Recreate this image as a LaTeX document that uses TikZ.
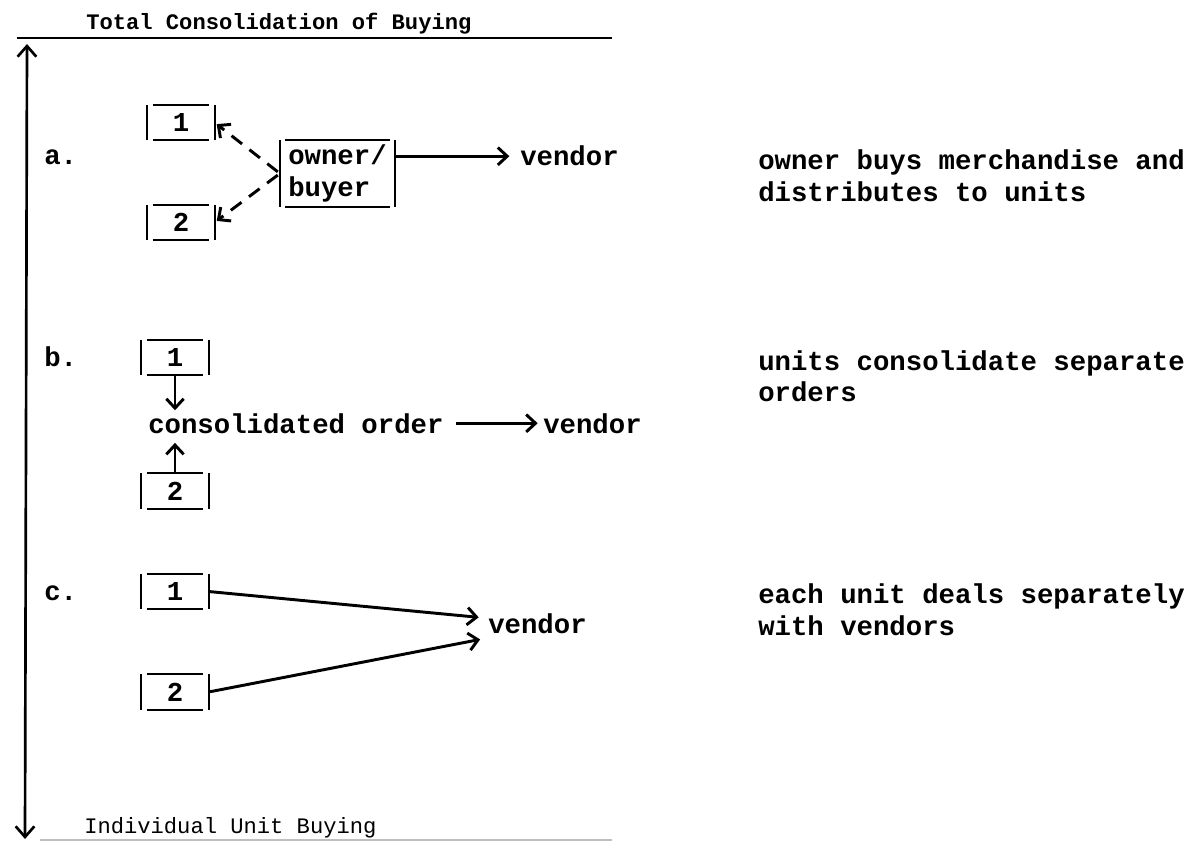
\documentclass[tikz,border=0pt]{standalone}
\usepackage{fontspec}
\setmonofont{Liberation Mono}
\usetikzlibrary{arrows.meta}
\newcommand\bodyfnt{\ttfamily\bfseries\fontsize{20.5pt}{24pt}\selectfont}
\newcommand\headfnt{\ttfamily\bfseries\fontsize{16.6pt}{20pt}\selectfont}
\newcommand\footfnt{\ttfamily\fontsize{16.6pt}{20pt}\selectfont}
\newcommand\digfnt{\ttfamily\bfseries\fontsize{20.5pt}{24pt}\selectfont}
\begin{document}
\begin{tikzpicture}[x=0.75pt,y=-0.75pt,
  txt/.style={inner sep=0pt, anchor=base west, font=\bodyfnt},
  bx/.style={line width=1.6pt},
  barbox/.style={inner sep=0pt, append after command={
      (\tikzlastnode.north west) edge[bx] (\tikzlastnode.south west)
      (\tikzlastnode.north east) edge[bx] (\tikzlastnode.south east)
      ([xshift=4pt]\tikzlastnode.north west) edge[bx] ([xshift=-4pt]\tikzlastnode.north east)
      ([xshift=4pt]\tikzlastnode.south west) edge[bx] ([xshift=-4pt]\tikzlastnode.south east)}},
  unitbox/.style={barbox, minimum width=50pt, minimum height=26pt, font=\digfnt},
  arr/.style={line width=2.2pt, -{Straight Barb[length=7pt,width=13pt]}},
  dasharr/.style={arr, dash pattern=on 10pt off 7pt},
  axis/.style={line width=2pt, {Straight Barb[length=8pt,width=14pt]}-{Straight Barb[length=8pt,width=14pt]}},
  rule/.style={line width=1.8pt}]
\useasboundingbox (0,0) rectangle (1198,841);

% header and scale
\node[txt, font=\headfnt] (title) at (86,30) {Total Consolidation of Buying};
\coordinate (tl) at (17,38);
\coordinate (tr) at (612,38);
\draw[rule] (tl) -- (tr);
\coordinate (axtop) at (27,44);
\coordinate (axbot) at (25,839);
\draw[axis] (axtop) -- (axbot);
\node[txt, font=\footfnt] (foot) at (84,833) {Individual Unit Buying};
\coordinate (bl) at (40,840);
\coordinate (br) at (612,840);
\draw[gray!50, line width=1pt] (bl) -- (br);

% a
\node[txt] (la) at (44,165) {a.};
\node[unitbox] (a1) at (181,122.5) {1};
\node[unitbox] (a2) at (181,222.5) {2};
\node[barbox, minimum width=86pt, minimum height=50pt, align=left, font=\bodyfnt] (ob) at (337.5,173.5) {owner/\\buyer};
\node[txt] (va) at (520,166) {vendor};
\draw[arr, shorten >=8pt] (ob.east |- va.west) -- (va.west);
\draw[dasharr, shorten <=2pt, shorten >=2pt] (ob.west) -- (a1.east);
\draw[dasharr, shorten <=2pt, shorten >=2pt] (ob.west) -- (a2.east);
\node[txt] (da1) at (758,170) {owner buys merchandise and};
\node[txt] (da2) at (758,202) {distributes to units};

% b
\node[txt] (lb) at (44,366) {b.};
\node[unitbox] (b1) at (175,357.5) {1};
\node[txt] (co) at (148,433) {consolidated order};
\node[unitbox] (b2) at (175,491) {2};
\node[txt] (vb) at (543,433) {vendor};
\draw[arr, shorten >=2pt] (b1.south) -- (b1.south |- co.north);
\draw[arr, shorten >=7pt] (b2.north) -- (b2.north |- co.south);
\draw[arr, shorten <=9pt, shorten >=4pt] (co.east) -- (vb.west);
\node[txt] (db1) at (758,370) {units consolidate separate};
\node[txt] (db2) at (758,401) {orders};

% c
\node[txt] (lc) at (44,600) {c.};
\node[unitbox] (c1) at (175,591.5) {1};
\node[unitbox] (c2) at (175,692) {2};
\node[txt] (vc) at (488,633) {vendor};
\draw[arr, shorten >=7pt] (c1.east) -- ([yshift=3.75pt]vc.west);
\draw[arr, shorten >=6pt] (c2.east) -- ([yshift=-11pt]vc.west);
\node[txt] (dc1) at (758,603) {each unit deals separately};
\node[txt] (dc2) at (758,635) {with vendors};
\end{tikzpicture}
\end{document}
